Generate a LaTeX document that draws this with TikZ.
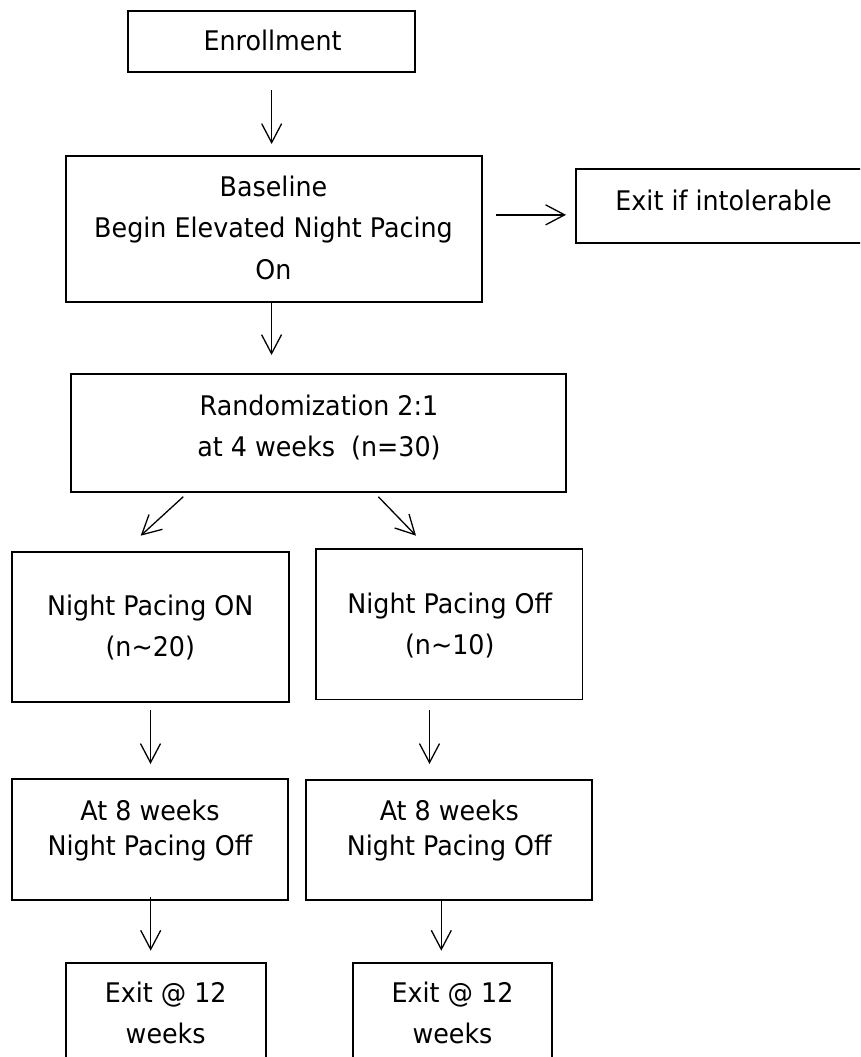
\documentclass[tikz,border=0pt]{standalone}
\usepackage{fontspec}
\setmainfont{DejaVu Sans}[FakeStretch=0.94]
\usetikzlibrary{arrows.meta}
\newcommand{\mylines}[2]{{\fontsize{27}{#1}\selectfont\begin{tabular}[t]{@{}c@{}}#2\end{tabular}}}
\begin{document}
\begin{tikzpicture}[x=1pt,y=-1pt,
  box/.style={draw=black, line width=1.8pt, rectangle, inner sep=0pt, outer sep=0pt},
  txt/.style={anchor=base, inner sep=0pt, outer sep=0pt, text=black},
  conn/.style={draw=black, line width=1.3pt, -{Straight Barb[length=19pt,width=20pt]}}]
\useasboundingbox (0,0) rectangle (860,1057);
\clip (0,0) rectangle (860,1057);
% boxes
\node[box, minimum width=286.7pt, minimum height=61.3pt] (enr) at (271.65,41.35) {};
\node[box, minimum width=415.7pt, minimum height=146.3pt] (base) at (273.85,228.85) {};
\node[box, minimum width=295.6pt, minimum height=73.4pt] (exitI) at (723.5,206) {};
\node[box, minimum width=494.7pt, minimum height=117.7pt] (rand) at (318.65,432.85) {};
\node[box, minimum width=277pt, minimum height=150.3pt] (npon) at (150.5,626.85) {};
\node[box, minimum width=266.5pt, minimum height=150.2pt] (npoff) at (449.25,624.4) {};
\node[box, minimum width=276.6pt, minimum height=120.7pt] (w8l) at (150,839.65) {};
\node[box, minimum width=286.6pt, minimum height=119.7pt] (w8r) at (449,840.15) {};
\node[box, minimum width=200pt, minimum height=127.3pt] (exl) at (165.7,1026.35) {};
\node[box, minimum width=199pt, minimum height=127.3pt] (exr) at (452.2,1026.35) {};
% texts
\node[txt] (enrt) at (272.5,50.7) {\mylines{41}{Enrollment}};
\node[txt] (baset) at (273.5,196) {\mylines{41.5}{Baseline\\Begin Elevated Night Pacing\\On}};
\node[txt] (exitIt) at (723.5,210) {\mylines{41}{Exit if intolerable}};
\node[txt] (randt) at (319,415) {\mylines{41}{Randomization 2:1\\at 4 weeks\ \ (n=30)}};
\node[txt] (nsont) at (150.3,615) {\mylines{41}{Night Pacing ON\\(n\textasciitilde 20)}};
\node[txt] (nsofft) at (449.8,613.3) {\mylines{41}{Night Pacing Off\\(n\textasciitilde 10)}};
\node[txt] (w8lt) at (150,820) {\mylines{35}{At 8 weeks\\Night Pacing Off}};
\node[txt] (w8rt) at (449.3,820) {\mylines{35}{At 8 weeks\\Night Pacing Off}};
\node[txt] (exlt) at (165.7,1002.7) {\mylines{40.6}{Exit @ 12\\weeks}};
\node[txt] (exrt) at (452.5,1002.7) {\mylines{40.6}{Exit @ 12\\weeks}};
% connectors
\draw[conn, shorten <=18pt, shorten >=11.7pt] (enr.south) -- (enr.south |- base.north);
\draw[conn, shorten >=19pt] ([xshift=-2.3pt]base.south) -- ([xshift=-2.3pt]base.south |- rand.north);
\draw[conn, shorten <=14pt, shorten >=9.7pt] ([yshift=14pt]base.east) -- ([yshift=14pt]base.east -| exitI.west);
\draw[conn] ([xshift=-135.35pt,yshift=-5pt]rand.south) -- ([xshift=-9.8pt,yshift=16pt]npon.north);
\draw[conn] ([xshift=59.65pt,yshift=-5pt]rand.south) -- ([xshift=-33.25pt,yshift=13.6pt]npoff.north);
\draw[conn, shorten <=8pt, shorten >=15.3pt] (npon.south) -- (npon.south |- w8l.north);
\draw[conn, shorten <=10.5pt, shorten >=16.3pt] ([xshift=-19.75pt]npoff.south) -- ([xshift=-19.75pt]npoff.south |- w8r.north);
\draw[conn, shorten <=-3.3pt, shorten >=12pt] ([xshift=0.7pt]w8l.south) -- ([xshift=0.7pt]w8l.south |- exl.north);
\draw[conn, shorten <=0.7pt, shorten >=12pt] ([xshift=-7.7pt]w8r.south) -- ([xshift=-7.7pt]w8r.south |- exr.north);
\end{tikzpicture}
\end{document}
